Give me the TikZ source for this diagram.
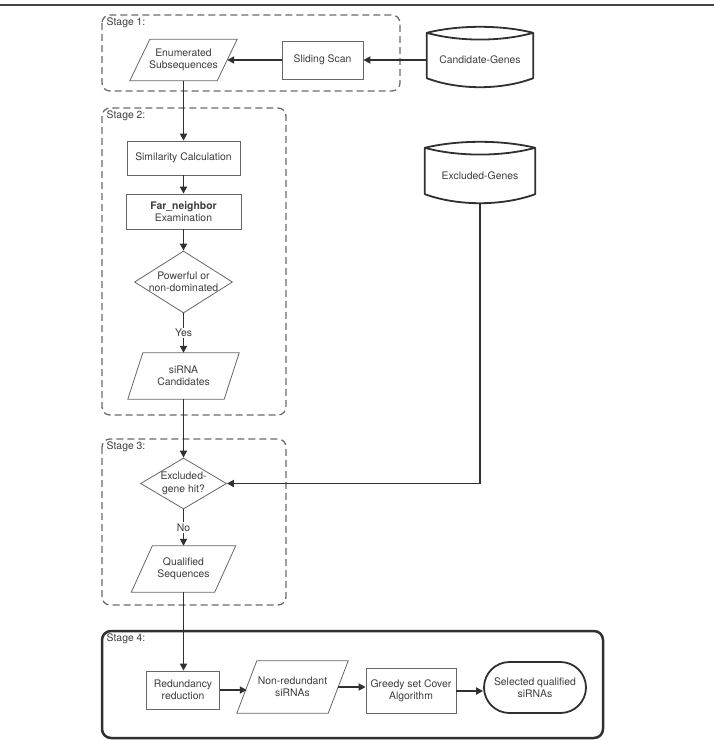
\documentclass[tikz,border=0pt]{standalone}
\usepackage{fontspec}
\setmainfont{TeX Gyre Heros}
\usetikzlibrary{shapes.geometric,shapes.misc,arrows.meta,calc}
\definecolor{txt}{HTML}{3C3C3C}
\definecolor{bord}{HTML}{666666}
\definecolor{dark}{HTML}{303030}
\definecolor{dashc}{HTML}{6A6A6A}
\newcommand\drawcyl[1]{%
  \draw[cylline] (#1.north west)
    .. controls ($(#1.north west)!0.3!(#1.north east)+(0,-8)$) and ($(#1.north west)!0.7!(#1.north east)+(0,-8)$) .. (#1.north east)
    .. controls ($(#1.north west)!0.7!(#1.north east)+(0,9)$) and ($(#1.north west)!0.3!(#1.north east)+(0,9)$) .. (#1.north west)
    -- ($(#1.south west)+(0,-9)$)
    .. controls ($(#1.south west)!0.3!(#1.south east)+(0,3)$) and ($(#1.south west)!0.7!(#1.south east)+(0,3)$) .. ($(#1.south east)+(0,-9)$)
    -- (#1.north east);}
\newcommand\drawpara[2]{%
  \draw[paraline] ($(#1.north west)+(#2/2,0)$) -- ($(#1.north east)+(#2/2,0)$)
    -- ($(#1.south east)+(-#2/2,0)$) -- ($(#1.south west)+(-#2/2,0)$) -- cycle;}
\begin{document}
\begin{tikzpicture}[x=1pt,y=-1pt,
  font=\fontsize{10.4}{12.4}\selectfont,
  every node/.style={text=txt},
  box/.style={rectangle, draw=bord, line width=0.8pt, inner sep=0pt, align=center},
  io/.style={rectangle, inner sep=0pt, align=center},
  paraline/.style={draw=bord, line width=0.8pt, line join=miter},
  dia/.style={diamond, draw=bord, line width=0.8pt, inner sep=0pt},
  cyl/.style={rectangle, inner sep=0pt, align=center},
  cylline/.style={draw=dark, line width=1.8pt, line join=round},
  stagebox/.style={draw=dashc, line width=1.3pt, dash pattern=on 7pt off 4pt, rounded corners=8pt},
  stagelbl/.style={anchor=west, inner sep=0pt},
  arr/.style={draw=dark, line width=1.8pt, -{Triangle[length=7pt,width=7pt]}},
  lbl/.style={fill=white, inner sep=1.5pt}
]
\useasboundingbox (0,0) rectangle (714,740);
\draw[line width=1.5pt, draw=dark!90] (0,5) -- (714,5);

% stage boxes
\draw[stagebox] (102,15) rectangle (400,91);
\draw[stagebox] (102,108) rectangle (286,415);
\draw[stagebox] (102,439) rectangle (286,605);
\draw[draw=dark, line width=2.5pt, rounded corners=9pt] (102,631) rectangle (603,738);
\node[stagelbl] (s1) at (106.5,23) {Stage 1:};
\node[stagelbl] (s2) at (106.5,116) {Stage 2:};
\node[stagelbl] (s3) at (106.5,447) {Stage 3:};
\node[stagelbl] (s4) at (106.5,639) {Stage 4:};

% stage 1
\node[io, minimum width=87pt, minimum height=41pt] (enum) at (183.5,60) {Enumerated\\Subsequences};
\drawpara{enum}{20}
\node[box, minimum width=81pt, minimum height=38pt] (slide) at (322.5,60) {Sliding Scan};
\node[cyl, minimum width=106pt, minimum height=54pt] (cand) at (480,60) {Candidate-Genes};
\drawcyl{cand}

% stage 2
\node[box, minimum width=113pt, minimum height=34pt] (sim) at (183.5,158) {Similarity Calculation};
\node[box, minimum width=115pt, minimum height=35pt] (far) at (183.5,211.5) {\textbf{Far\_neighbor}\\Examination};
\node[dia, minimum width=98pt, minimum height=62pt,
  label={[align=center, text=txt]center:Powerful or\\non-dominated}] (pow) at (183.5,282) {};
\node[io, minimum width=96pt, minimum height=46pt] (sirna) at (183.5,376) {siRNA\\Candidates};
\drawpara{sirna}{15}

\node[cyl, minimum width=110pt, minimum height=55pt] (excg) at (480,175.5) {Excluded-Genes};
\drawcyl{excg}

% stage 3
\node[dia, minimum width=86pt, minimum height=51pt,
  label={[align=center, text=txt]center:Excluded-\\gene hit?}] (exc) at (183.5,483.5) {};
\node[io, minimum width=83pt, minimum height=46pt] (qual) at (183.5,569) {Qualified\\Sequences};
\drawpara{qual}{21}

% stage 4
\node[box, minimum width=73pt, minimum height=38pt] (red) at (183,690) {Redundancy\\reduction};
\node[io, minimum width=91pt, minimum height=52pt] (nonred) at (292.5,687) {Non-redundant\\siRNAs};
\drawpara{nonred}{20}
\node[box, minimum width=90pt, minimum height=45pt] (greedy) at (411,691) {Greedy set Cover\\Algorithm};
\node[rounded rectangle, draw=dark, line width=1.8pt, inner sep=0pt, align=center,
  minimum width=102pt, minimum height=51pt] (sel) at (535,687.5) {Selected qualified\\siRNAs};

% connectors
\draw[arr] (cand.west) -- (slide.east);
\draw[arr] (slide.west) -- (enum.east);
\draw[arr] (enum.south) -- (sim.north);
\draw[arr] (sim.south) -- (far.north);
\draw[arr] (far.south) -- (pow.north);
\draw[arr] (pow.south) -- node[lbl] (yes) {Yes} (sirna.north);
\draw[arr] (sirna.south) -- (exc.north);
\draw[arr] (excg.south) |- (exc.east);
\draw[arr] (exc.south) -- node[lbl] (no) {No} (qual.north);
\draw[arr] (qual.south) -- (qual.south |- red.north);
\draw[arr] (red.east) -- (red.east -| nonred.west);
\draw[arr] (nonred.east) -- (nonred.east -| greedy.west);
\draw[arr] (greedy.east) -- (greedy.east -| sel.west);
\end{tikzpicture}
\end{document}
